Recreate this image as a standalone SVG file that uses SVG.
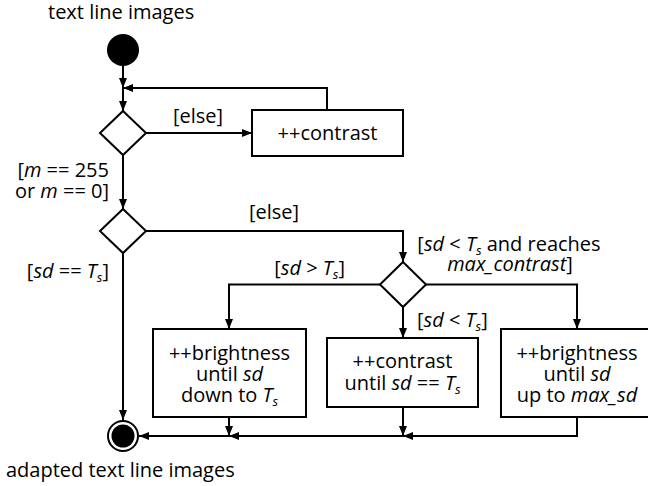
<svg xmlns="http://www.w3.org/2000/svg" width="648" height="486" viewBox="0 0 648 486">
<style>
text{font-family:"Open Sans","DejaVu Sans",sans-serif;font-size:20px;fill:#000}
.c{text-anchor:middle}
.e{text-anchor:end}
.i{font-style:italic}
.sub{font-size:13px;font-style:italic}
.box{fill:#fff;stroke:#000;stroke-width:2}
.conn{fill:none;stroke:#000;stroke-width:2;marker-end:url(#ah)}
</style>
<defs>
<marker id="ah" viewBox="0 0 10 8" refX="10" refY="4" markerWidth="10" markerHeight="8" markerUnits="userSpaceOnUse" orient="auto">
<path d="M0,0 L10,4 L0,8 z" fill="#000"/>
</marker>
</defs>
<rect width="648" height="486" fill="#fff"/>
<g id="start">
<circle cx="123" cy="50" r="16" fill="#000"/>
<text x="48" y="19">text line images</text>
</g>
<g id="decision1"><polygon class="box" points="123,111 146,133 123,155 100,133"/></g>
<g id="contrast1">
<rect class="box" x="252" y="110" width="151" height="46"/>
<text class="c" x="327.5" y="140">++contrast</text>
</g>
<g id="decision2"><polygon class="box" points="123,209 146,231 123,253 100,231"/></g>
<g id="decision3"><polygon class="box" points="403,262 426,284.5 403,307 380,284.5"/></g>
<g id="brightness_down">
<rect class="box" x="153" y="329" width="153" height="88"/>
<text class="c" x="229.5" y="360">++brightness</text>
<text class="c" x="229.5" y="381">until <tspan class="i">sd</tspan></text>
<text class="c" x="229.5" y="402">down to <tspan class="i">T</tspan><tspan class="sub" dy="4">s</tspan></text>
</g>
<g id="contrast_until">
<rect class="box" x="327" y="338" width="151" height="69"/>
<text class="c" x="402.5" y="368">++contrast</text>
<text class="c" x="402.5" y="390">until <tspan class="i">sd</tspan> == <tspan class="i">T</tspan><tspan class="sub" dy="4">s</tspan></text>
</g>
<g id="brightness_up">
<rect class="box" x="501" y="329" width="153" height="88"/>
<text class="c" x="577" y="360">++brightness</text>
<text class="c" x="577" y="381">until <tspan class="i">sd</tspan></text>
<text class="c" x="577" y="402">up to <tspan class="i">max_sd</tspan></text>
</g>
<g id="end">
<circle cx="123" cy="436" r="15" fill="#fff" stroke="#000" stroke-width="2"/>
<circle cx="123" cy="436" r="11.5" fill="#000"/>
<text x="6" y="477">adapted text line images</text>
</g>
<g id="connectors">
<path class="conn" d="M123,66 V88"/>
<path class="conn" d="M327,110 V88 H123"/>
<path class="conn" d="M123,88 V111"/>
<path class="conn" d="M146,133 H252"/>
<path class="conn" d="M123,155 V209"/>
<path class="conn" d="M146,231 H403 V262"/>
<path class="conn" d="M123,253 V420"/>
<path class="conn" d="M380,284.5 H229 V329"/>
<path class="conn" d="M426,284.5 H577 V329"/>
<path class="conn" d="M403,307 V338"/>
<path class="conn" d="M229,417 V436"/>
<path class="conn" d="M403,407 V436"/>
<path class="conn" d="M577,417 V436 H403"/>
<path class="conn" d="M403,436 H229"/>
<path class="conn" d="M229,436 H139"/>
</g>
<g id="labels">
<text x="173" y="123">[else]</text>
<text class="e" x="109" y="177">[<tspan class="i">m</tspan> == 255</text>
<text class="e" x="109" y="198">or <tspan class="i">m</tspan> == 0]</text>
<text x="249" y="219">[else]</text>
<text class="e" x="109" y="278">[<tspan class="i">sd</tspan> == <tspan class="i">T</tspan><tspan class="sub" dy="4">s</tspan><tspan dy="-4">]</tspan></text>
<text class="c" x="509" y="251">[<tspan class="i">sd</tspan> &lt; <tspan class="i">T</tspan><tspan class="sub" dy="4">s</tspan><tspan dy="-4"> and reaches</tspan></text>
<text class="c" x="510" y="271"><tspan class="i">max_contrast</tspan>]</text>
<text class="e" x="345" y="275">[<tspan class="i">sd</tspan> &gt; <tspan class="i">T</tspan><tspan class="sub" dy="4">s</tspan><tspan dy="-4">]</tspan></text>
<text x="417" y="327">[<tspan class="i">sd</tspan> &lt; <tspan class="i">T</tspan><tspan class="sub" dy="4">s</tspan><tspan dy="-4">]</tspan></text>
</g>
</svg>
